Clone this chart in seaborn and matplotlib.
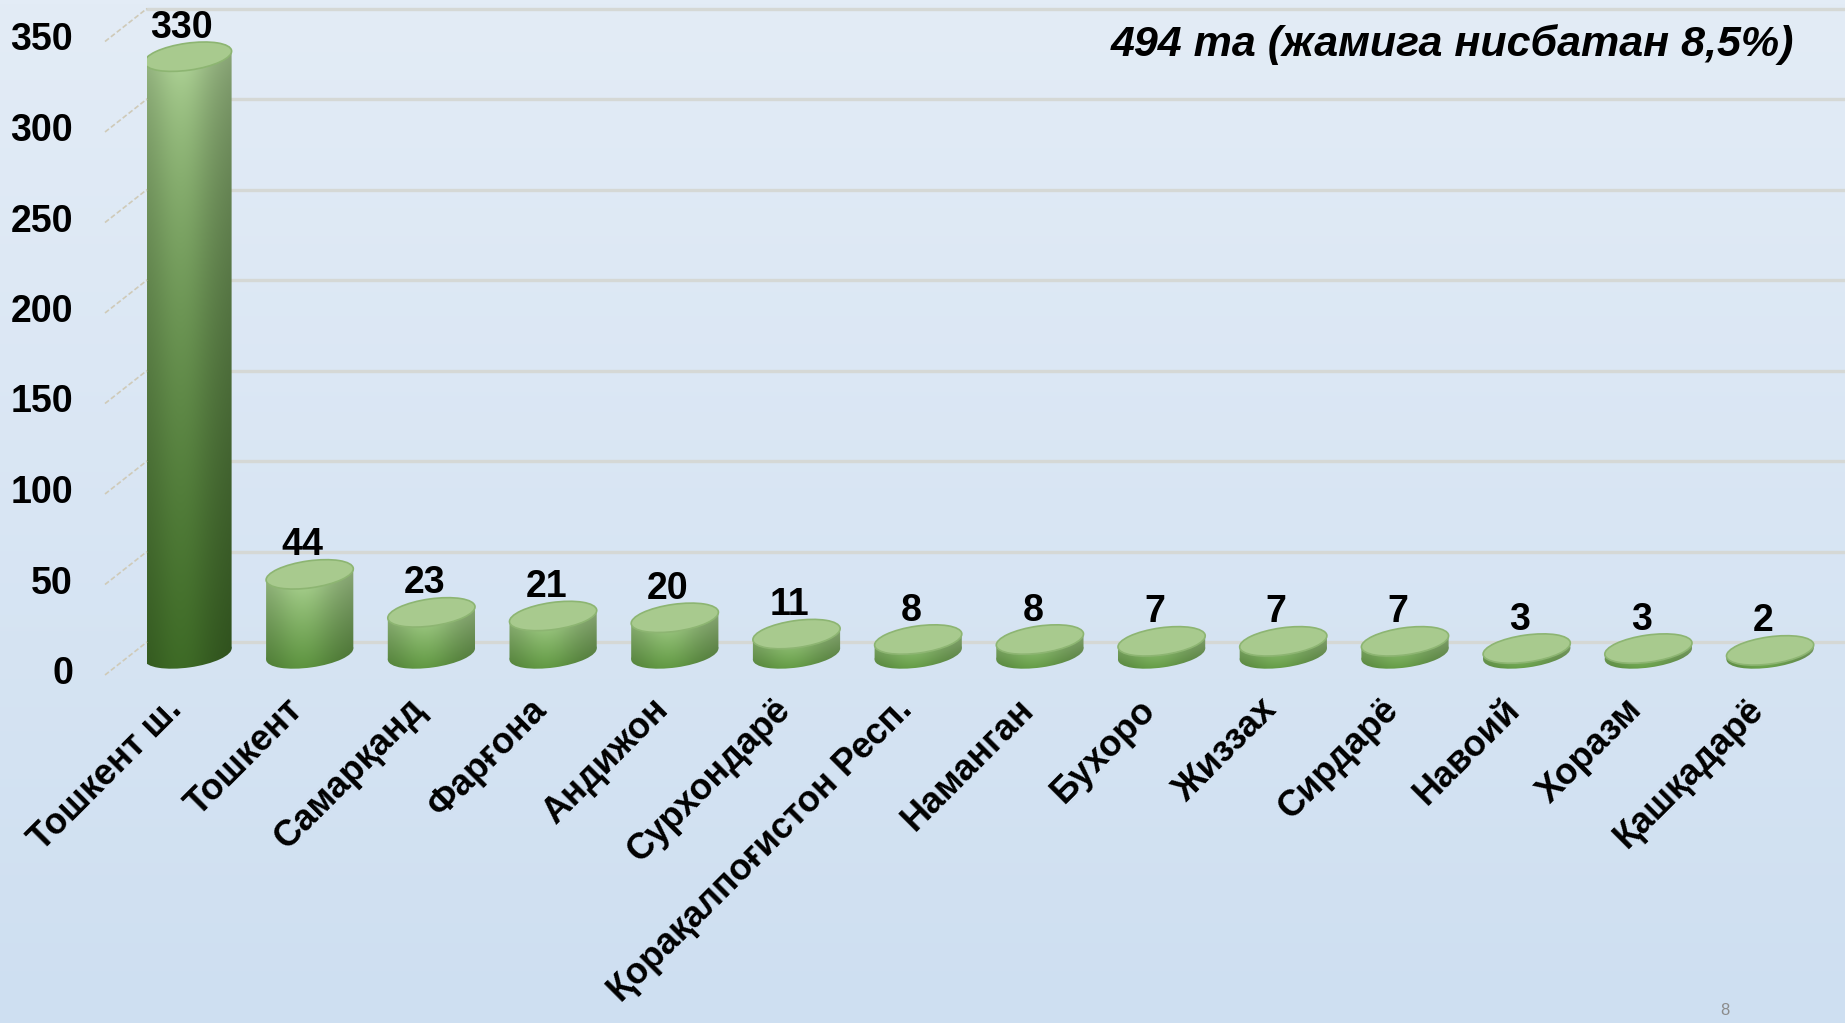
import numpy as np
import matplotlib
matplotlib.use('Agg')
import matplotlib.pyplot as plt
import seaborn as sns
from matplotlib.patches import Ellipse, Polygon
from matplotlib.lines import Line2D
from matplotlib.transforms import ScaledTranslation, IdentityTransform
from matplotlib.colors import to_rgb

# data
regions = ['Тошкент ш.', 'Тошкент', 'Самарқанд', 'Фарғона', 'Андижон', 'Сурхондарё',
           'Қорақалпоғистон Респ.', 'Наманган', 'Бухоро', 'Жиззах', 'Сирдарё',
           'Навоий', 'Хоразм', 'Қашқадарё']
counts = [330, 44, 23, 21, 20, 11, 8, 8, 7, 7, 7, 3, 3, 2]
y_ticks = [0, 50, 100, 150, 200, 250, 300, 350]
note = '494 та (жамига нисбатан 8,5%)'
page_no = '8'

# layout (pixels)
W, H, DPI = 1845, 1023, 100
ax_left, ax_bottom_px = 147, 700
base_px, px_per_unit = 654, 1.81
step_px, first_px = 121.7, 188
ell_h, tilt = 27, 8

sns.set_theme(style='white')
plt.rcParams['font.family'] = ['Liberation Sans', 'DejaVu Sans']

fig = plt.figure(figsize=(W / DPI, H / DPI), dpi=DPI)

# light blue background gradient
bg = fig.add_axes([0, 0, 1, 1], zorder=-10)
c_top, c_bot = np.array(to_rgb('#e3ecf6')), np.array(to_rgb('#cedff1'))
g = np.linspace(0, 1, 256)[:, None, None]
bg.imshow(c_top * (1 - g) + c_bot * g, aspect='auto', extent=(0, 1, 0, 1))
bg.axis('off')

ax = fig.add_axes([ax_left / W, 1 - ax_bottom_px / H, 1 - ax_left / W, ax_bottom_px / H])
ax.patch.set_alpha(0)
sns.barplot(x=regions, y=counts, color='#6a9c4c', width=0.723, ax=ax)
xlim = ((ax_left - first_px) / step_px, (W - first_px) / step_px)
ylim = ((base_px - ax_bottom_px) / px_per_unit, base_px / px_per_unit)
ax.set_xlim(xlim)
ax.set_ylim(ylim)
sns.despine(ax=ax, left=True, bottom=True)
ax.set_yticks([])
ax.set_ylabel('')

inv = ax.transData.inverted()

# back-wall gridlines and the little floor diagonals
for v in y_ticks:
    yv = ax.transData.transform((0, v))[1]
    ax.add_artist(Line2D([0, 1], [v, v], color='#d5d8d5', lw=2.4, zorder=1, clip_on=False,
                         transform=ax.get_yaxis_transform() + ScaledTranslation(0, 12 / DPI, fig.dpi_scale_trans)))
    fig.add_artist(Line2D([ax_left - 42, ax_left], [yv - 21, yv + 12], color='#cfcab8', lw=1.2,
                          ls=(0, (3, 1.5)), transform=IdentityTransform()))
    ax.text(0, v, str(v), transform=ax.get_yaxis_transform() + ScaledTranslation(-74 / DPI, -20 / DPI, fig.dpi_scale_trans),
            ha='right', va='center', fontsize=27, fontweight='bold', color='black')

# cylinders
light = np.array(to_rgb('#bfe0a8'))
u = np.linspace(0, 1, 80)
shade = 0.84 + 0.2 * np.exp(-((u - 0.42) / 0.32) ** 2) - 0.06 * u ** 4
th = np.deg2rad(tilt)
for i, p in enumerate(list(ax.patches)):
    x0, w, h = p.get_x(), p.get_width(), p.get_height()
    p.set_visible(False)
    lx, by = ax.transData.transform((x0, 0))
    rx, ty = ax.transData.transform((x0 + w, h))
    cx, bw = (lx + rx) / 2, rx - lx
    a, b = bw / 2, ell_h / 2
    x_ext = np.sqrt(a ** 2 * np.cos(th) ** 2 + b ** 2 * np.sin(th) ** 2)
    y_off = (a ** 2 - b ** 2) * np.sin(th) * np.cos(th) / x_ext
    y_ext = np.sqrt(a ** 2 * np.sin(th) ** 2 + b ** 2 * np.cos(th) ** 2)

    k = min(1.0, (ty - by) / 420)
    dark = np.array(to_rgb('#5e9540')) * (1 - k) + np.array(to_rgb('#3b6624')) * k
    t = np.linspace(0, 1, 200)[:, None, None] ** (0.85 - 0.35 * k)
    img = (light * (1 - t) + dark * t) * shade[None, :, None]
    img = np.clip(img, 0, 1)

    dx0, dy0 = inv.transform((cx - x_ext - 2, by - y_ext - 2))
    dx1, dy1 = inv.transform((cx + x_ext + 2, ty + y_ext))
    body = Polygon([(cx - x_ext, by - y_off), (cx - x_ext, ty - y_off),
                    (cx + x_ext, ty + y_off), (cx + x_ext, by + y_off)],
                   closed=True, transform=IdentityTransform())
    bottom = Ellipse((cx, by), bw, ell_h, angle=tilt, transform=IdentityTransform())
    for clip in (body, bottom):
        im = ax.imshow(img, extent=(dx0, dx1, dy0, dy1), aspect='auto', zorder=2, interpolation='bilinear')
        im.set_clip_path(clip)
    ax.add_artist(Ellipse((cx, ty), bw, ell_h, angle=tilt, transform=IdentityTransform(),
                          facecolor='#a8ca8e', edgecolor='#8db572', lw=1.2, zorder=3))

    ax.text(i, counts[i], str(counts[i]),
            transform=ax.transData + ScaledTranslation(-7 / DPI, 19 / DPI, fig.dpi_scale_trans),
            ha='center', va='baseline', fontsize=27, fontweight='bold', color='black', zorder=5)

ax.set_xlim(xlim)
ax.set_ylim(ylim)
ax.set_xticks(range(len(regions)))
ax.tick_params(axis='x', length=0, pad=0)
ax.set_xticklabels(regions, rotation=45, ha='right', rotation_mode='anchor',
                   fontsize=26, fontweight='bold', color='black')
for lbl in ax.get_xticklabels():
    lbl.set_transform(lbl.get_transform() + ScaledTranslation(-24 / DPI, 8 / DPI, fig.dpi_scale_trans))
ax.set_xlabel('')

fig.text(1794 / W, 1 - 45 / H, note, ha='right', va='center', fontsize=31, color='black',
         fontweight='bold', fontstyle='italic', family=['Liberation Sans Narrow', 'Liberation Sans'])
fig.text(1725 / W, 1 - 1003 / H, page_no, ha='center', va='top', fontsize=12, color='#8c8c8c')

fig.savefig('out.png', dpi=DPI)
